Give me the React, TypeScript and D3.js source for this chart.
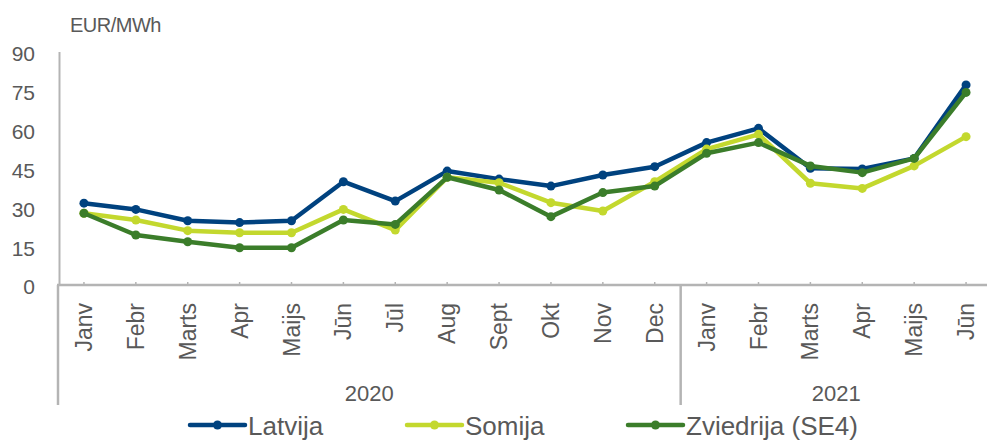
import { useEffect, useRef } from 'react'
import * as d3 from 'd3'

const months = ['Janv', 'Febr', 'Marts', 'Apr', 'Maijs', 'Jūn', 'Jūl', 'Aug', 'Sept', 'Okt', 'Nov', 'Dec',
  'Janv', 'Febr', 'Marts', 'Apr', 'Maijs', 'Jūn']
const years = ['2020', '2021']
const yearSpans = [[0, 11], [12, 17]]
const yTicks = [0, 15, 30, 45, 60, 75, 90]

const seriesNames = ['Latvija', 'Somija', 'Zviedrija (SE4)']
const latvija = [31.6, 29.2, 24.8, 24.1, 24.8, 39.9, 32.4, 44.0, 40.9, 38.2, 42.5, 45.7, 55.0, 60.5, 45.1, 44.8, 48.9, 77.3]
const somija = [27.7, 25.1, 21.0, 20.2, 20.2, 29.2, 21.2, 41.6, 39.5, 31.8, 28.6, 39.9, 52.5, 58.2, 39.3, 37.3, 46.0, 57.3]
const zviedrija = [27.7, 19.3, 16.7, 14.4, 14.4, 25.1, 23.4, 41.6, 36.7, 26.4, 35.7, 38.2, 50.9, 55.0, 46.0, 43.4, 48.9, 74.4]
const colors = ['#00427f', '#c3d82e', '#3b7d2a']

export default function App() {
  const ref = useRef<SVGSVGElement | null>(null)

  useEffect(() => {
    const svg = d3.select(ref.current)
    svg.selectAll('*').remove()

    const left = 58
    const right = 992
    const top = 52
    const bottom = 285
    const boxBottom = 405
    const axisColor = '#b4b4b4'
    const textColor = '#595959'
    const font = '"Liberation Sans", Arial, sans-serif'

    const x = d3.scaleBand<number>()
      .domain(months.map((_, i) => i))
      .range([left, right])
    const cx = (i: number) => x(i)! + x.bandwidth() / 2

    const y = d3.scaleLinear().domain([0, 90]).range([bottom, top])

    // unit label
    svg.append('text')
      .attr('x', 70).attr('y', 32)
      .attr('font-family', font).attr('font-size', 20)
      .attr('letter-spacing', -0.5)
      .attr('fill', textColor)
      .text('EUR/MWh')

    // y axis
    svg.append('line')
      .attr('x1', 59.5).attr('x2', 59.5)
      .attr('y1', top).attr('y2', bottom)
      .attr('stroke', axisColor).attr('stroke-width', 2)

    svg.append('g')
      .selectAll('text')
      .data(yTicks)
      .enter()
      .append('text')
      .attr('x', 35)
      .attr('y', (d) => y(d) + 2)
      .attr('dy', '0.35em')
      .attr('text-anchor', 'end')
      .attr('font-family', font).attr('font-size', 21)
      .attr('fill', textColor)
      .text((d) => d)

    // x axis and category boxes
    svg.append('line')
      .attr('x1', 57).attr('x2', 987)
      .attr('y1', bottom).attr('y2', bottom)
      .attr('stroke', axisColor).attr('stroke-width', 2.5)

    svg.append('line')
      .attr('x1', left).attr('x2', left)
      .attr('y1', bottom).attr('y2', boxBottom)
      .attr('stroke', axisColor).attr('stroke-width', 2.5)

    svg.append('line')
      .attr('x1', x(12)!).attr('x2', x(12)!)
      .attr('y1', bottom).attr('y2', boxBottom)
      .attr('stroke', axisColor).attr('stroke-width', 2.5)

    svg.append('g')
      .selectAll('line')
      .data(months.map((_, i) => i))
      .enter()
      .append('line')
      .attr('x1', (i) => cx(i)).attr('x2', (i) => cx(i))
      .attr('y1', bottom - 3).attr('y2', bottom)
      .attr('stroke', axisColor).attr('stroke-width', 1.5)

    svg.append('g')
      .selectAll('text')
      .data(months)
      .enter()
      .append('text')
      .attr('transform', (_, i) => `translate(${cx(i)},303) rotate(-90)`)
      .attr('dy', '0.35em')
      .attr('text-anchor', 'end')
      .attr('font-family', font).attr('font-size', 23)
      .attr('fill', textColor)
      .text((d) => d)

    svg.append('g')
      .selectAll('text')
      .data(years)
      .enter()
      .append('text')
      .attr('x', (_, i) => (x(yearSpans[i][0])! + x(yearSpans[i][1])! + x.bandwidth()) / 2)
      .attr('y', 401)
      .attr('text-anchor', 'middle')
      .attr('font-family', font).attr('font-size', 22)
      .attr('fill', textColor)
      .text((d) => d)

    // series
    const allSeries = [latvija, somija, zviedrija]
    const line = d3.line<number>()
      .x((_, i) => cx(i))
      .y((d) => y(d))

    allSeries.forEach((values, s) => {
      const g = svg.append('g')
      g.append('path')
        .datum(values)
        .attr('d', line)
        .attr('fill', 'none')
        .attr('stroke', colors[s])
        .attr('stroke-width', 4.5)
        .attr('stroke-linejoin', 'round')
      g.selectAll('circle')
        .data(values)
        .enter()
        .append('circle')
        .attr('cx', (_, i) => cx(i))
        .attr('cy', (d) => y(d))
        .attr('r', 4.5)
        .attr('fill', colors[s])
    })

    // legend
    const legendX = [190, 407, 628]
    seriesNames.forEach((name, s) => {
      const g = svg.append('g').attr('transform', `translate(${legendX[s]},425)`)
      g.append('line')
        .attr('x1', 0).attr('x2', 55)
        .attr('y1', 0).attr('y2', 0)
        .attr('stroke', colors[s]).attr('stroke-width', 4.5)
        .attr('stroke-linecap', 'round')
      g.append('circle')
        .attr('cx', 27.5).attr('cy', 0).attr('r', 4.5)
        .attr('fill', colors[s])
      g.append('text')
        .attr('x', 58).attr('y', 10)
        .attr('font-family', font).attr('font-size', 26)
        .attr('fill', textColor)
        .text(name)
    })
  }, [])

  return (
    <svg
      ref={ref}
      width={987}
      height={440}
      style={{ position: 'absolute', left: 0, top: 0, background: '#fff' }}
    />
  )
}
